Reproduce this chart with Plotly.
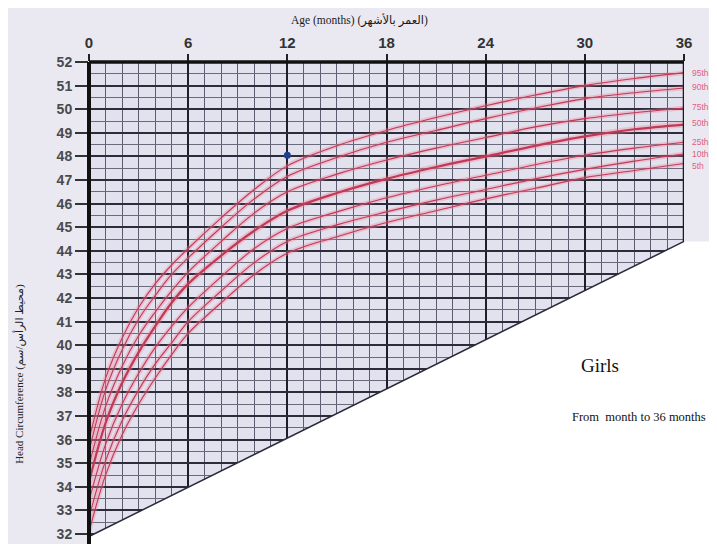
import plotly.graph_objects as go

# ---- data ----
ages = [0, 1, 2, 3, 4, 5, 6, 8, 10, 12, 15, 18, 21, 24, 27, 30, 33, 36]
p95 = [36.0, 38.6, 40.3, 41.6, 42.6, 43.4, 44.1, 45.4, 46.6, 47.6, 48.45, 49.1, 49.65, 50.15, 50.6, 51.0, 51.3, 51.55]
p90 = [35.5, 38.1, 39.8, 41.1, 42.1, 43.0, 43.7, 45.0, 46.2, 47.15, 47.95, 48.6, 49.1, 49.6, 50.05, 50.45, 50.7, 50.9]
p75 = [34.9, 37.4, 39.1, 40.4, 41.4, 42.3, 43.1, 44.4, 45.6, 46.5, 47.25, 47.85, 48.35, 48.8, 49.25, 49.6, 49.85, 50.05]
p50 = [34.2, 36.7, 38.4, 39.7, 40.8, 41.8, 42.6, 43.8, 44.85, 45.7, 46.45, 47.05, 47.55, 48.0, 48.45, 48.85, 49.15, 49.35]
p25 = [33.4, 35.8, 37.5, 38.8, 39.9, 40.8, 41.6, 42.9, 44.1, 44.95, 45.65, 46.25, 46.75, 47.2, 47.65, 48.05, 48.35, 48.6]
p10 = [32.7, 35.1, 36.8, 38.1, 39.2, 40.1, 41.0, 42.3, 43.5, 44.4, 45.1, 45.65, 46.15, 46.6, 47.05, 47.45, 47.8, 48.1]
p5 = [32.1, 34.5, 36.2, 37.5, 38.6, 39.6, 40.5, 41.8, 43.0, 43.9, 44.6, 45.2, 45.7, 46.2, 46.65, 47.1, 47.4, 47.7]

percentile_names = ["95th", "90th", "75th", "50th", "25th", "10th", "5th"]
label_y = [51.55, 50.95, 50.1, 49.4, 48.6, 48.1, 47.6]

point_age = [12]
point_hc = [48.05]

x_ticks = [0, 6, 12, 18, 24, 30, 36]
y_ticks = list(range(32, 53))

cut_start = (0, 31.9)     # lower-left corner of the cut-away region
cut_end = (36, 44.4)      # where the diagonal meets the last age line

X_MIN, X_MAX = 0, 36
Y_MIN, Y_MAX = 31.75, 52

fig = go.Figure()

series = [p95, p90, p75, p50, p25, p10, p5]
for name, vals in zip(percentile_names, series):
    bold = name == "50th"
    fig.add_trace(go.Scatter(x=ages, y=vals, mode="lines", line_shape="spline",
                             line=dict(color="rgba(238,130,155,0.35)", width=6 if bold else 4.5),
                             hoverinfo="skip", showlegend=False))
    fig.add_trace(go.Scatter(x=ages, y=vals, mode="lines", line_shape="spline", name=name,
                             line=dict(color="#c03a55", width=2.2 if bold else 1.1),
                             showlegend=False))

fig.add_trace(go.Scatter(x=point_age, y=point_hc, mode="markers",
                         marker=dict(color="#1d3f8f", size=7), showlegend=False))

def px(x):
    return (x - X_MIN) / (X_MAX - X_MIN)

def py(y):
    return (y - Y_MIN) / (Y_MAX - Y_MIN)

x0p, y0p = px(cut_start[0]), py(cut_start[1])
x1p, y1p = px(cut_end[0]), py(cut_end[1])
path = (f"M {x0p},{y0p} L {x1p},{y1p} L 1.12,{y1p} L 1.12,-0.2 L {x0p},-0.2 Z")

shapes = [
    dict(type="path", xref="paper", yref="paper", path=path,
         fillcolor="white", line=dict(width=0), layer="above"),
    dict(type="line", xref="paper", yref="paper", x0=x0p, y0=y0p, x1=x1p, y1=y1p,
         line=dict(color="#2a2a3a", width=1.5), layer="above"),
    # borders
    dict(type="line", xref="x", yref="paper", x0=36, x1=36, y0=y1p, y1=1,
         line=dict(color="#1a1a1a", width=2.5), layer="above"),
    dict(type="line", xref="paper", yref="paper", x0=0, x1=1, y0=1, y1=1,
         line=dict(color="#111", width=3.5), layer="above"),
    dict(type="line", xref="paper", yref="paper", x0=0, x1=0, y0=-0.02, y1=1.0,
         line=dict(color="#111", width=4), layer="above"),
]

annotations = []
for name, yv in zip(percentile_names, label_y):
    annotations.append(dict(x=36, y=yv, xref="x", yref="y", text=name, showarrow=False,
                            xanchor="left", yanchor="middle", xshift=6,
                            font=dict(family="Liberation Sans", size=8.5, color="#e0607e")))

annotations += [
    dict(x=0.455, y=1.0875, xref="paper", yref="paper", showarrow=False,
         xanchor="center", yanchor="middle",
         text="Age (months) (العمر بالأشهر)",
         font=dict(family="Liberation Serif, DejaVu Sans", size=11.5, color="#1a1a1a")),
    dict(x=-0.119, y=0.348, xref="paper", yref="paper", showarrow=False, textangle=-90,
         xanchor="center", yanchor="middle",
         text="Head Circumference (محيط الرأس/سم)",
         font=dict(family="Liberation Serif, DejaVu Sans", size=11, color="#222")),
    dict(x=30.9, y=39.13, xref="x", yref="y", showarrow=False, text="Girls",
         xanchor="center", yanchor="middle",
         font=dict(family="Liberation Serif", size=19, color="#111")),
    dict(x=33.3, y=36.98, xref="x", yref="y", showarrow=False,
         xanchor="center", yanchor="middle",
         text="From  month to 36 months",
         font=dict(family="Liberation Serif", size=12.5, color="#111")),
]

# page body has an 8px margin, so the figure is 8px smaller than the window
fig.update_layout(
    width=709, height=536,
    margin=dict(l=81, r=33, t=54, b=2),
    paper_bgcolor="#eae9f2",
    plot_bgcolor="#e2e1ee",
    shapes=shapes,
    annotations=annotations,
    showlegend=False,
)

fig.update_xaxes(
    range=[X_MIN, X_MAX], side="top", tickvals=x_ticks, ticktext=[str(v) for v in x_ticks],
    showgrid=True, gridcolor="#1e1e28", gridwidth=2,
    minor=dict(dtick=1, tick0=0, showgrid=True, gridcolor="#5c5c70", gridwidth=1),
    ticks="outside", ticklen=7, tickwidth=2, tickcolor="#222",
    tickfont=dict(family="Liberation Sans", size=15, color="#333", weight="bold"),
    zeroline=False, showline=False, fixedrange=True,
)

fig.update_yaxes(
    range=[Y_MIN, Y_MAX], tickvals=y_ticks, ticktext=[str(v) for v in y_ticks],
    showgrid=True, gridcolor="#2c2c3a", gridwidth=1.6,
    minor=dict(dtick=0.5, tick0=0, showgrid=True, gridcolor="#6a6a7c", gridwidth=1),
    ticks="outside", ticklen=13, tickwidth=2, tickcolor="#333",
    tickfont=dict(family="Liberation Sans", size=14, color="#4a4a4a", weight="bold"),
    zeroline=False, showline=False, fixedrange=True,
)

fig.write_html("out.html")
